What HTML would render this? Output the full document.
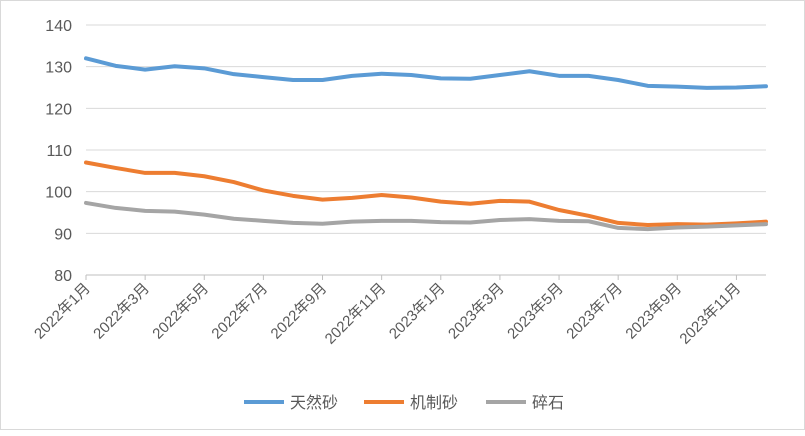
<!DOCTYPE html>
<html><head><meta charset="utf-8">
<style>
body{margin:0;background:#fff;}
#wrap{width:805px;height:430px;position:relative;box-sizing:border-box;border:1px solid #d9d9d9;background:#fff;}
svg text{font-family:"Liberation Sans","Noto Sans CJK SC",sans-serif;fill:#595959;}
</style></head>
<body>
<div id="wrap">
<svg id="chart" width="805" height="430"></svg>
</div>
<script>
const categories=["2022年1月","2022年2月","2022年3月","2022年4月","2022年5月","2022年6月","2022年7月","2022年8月","2022年9月","2022年10月","2022年11月","2022年12月","2023年1月","2023年2月","2023年3月","2023年4月","2023年5月","2023年6月","2023年7月","2023年8月","2023年9月","2023年10月","2023年11月","2023年12月"];
const naturalSand=[132,130.2,129.3,130.1,129.6,128.2,127.5,126.8,126.8,127.8,128.3,128.0,127.2,127.1,128.0,128.9,127.8,127.8,126.8,125.4,125.2,124.9,125.0,125.3];
const machineSand=[107.0,105.7,104.5,104.5,103.7,102.3,100.3,99.0,98.1,98.5,99.2,98.6,97.6,97.1,97.8,97.6,95.6,94.2,92.5,92.0,92.2,92.1,92.4,92.8];
const gravel=[97.3,96.1,95.4,95.2,94.5,93.5,93.0,92.5,92.3,92.8,93.0,93.0,92.7,92.6,93.2,93.4,93.0,92.9,91.3,91.0,91.4,91.6,91.9,92.2];
const yTicks=[80,90,100,110,120,130,140];
const seriesNames=["天然砂","机制砂","碎石"];
const colors=["#5b9bd5","#ed7d31","#a5a5a5"];
const NS="http://www.w3.org/2000/svg";
const svg=document.getElementById('chart');
const x0=85,x1=765,yTop=24,yBot=274,yMin=80,yMax=140;
const xs=i=>x0+i*(x1-x0)/(categories.length-1);
const ys=v=>yBot-(v-yMin)/(yMax-yMin)*(yBot-yTop);
function mk(t,a){const e=document.createElementNS(NS,t);for(const k in a)e.setAttribute(k,a[k]);svg.appendChild(e);return e;}
yTicks.forEach(v=>{
  const g=mk('line',{x1:x0,x2:x1,y1:ys(v),y2:ys(v),stroke:v===80?'#bfbfbf':'#d9d9d9','stroke-width':1});
  
  
  const t=mk('text',{x:x0-14,y:ys(v)+6,'text-anchor':'end','font-size':16});
  t.textContent=v;
  
  
});
categories.forEach((c,i)=>{
  if(i%2===0){
    const tk=mk('line',{x1:xs(i),x2:xs(i),y1:yBot,y2:yBot+5,stroke:'#bfbfbf'});
    
    
    const t=mk('text',{x:xs(i)+5,y:yBot+14,'text-anchor':'end','font-size':15,transform:`rotate(-45 ${xs(i)+5} ${yBot+14})`});
    t.textContent=c;
    
    
  }
});
[naturalSand,machineSand,gravel].forEach((s,k)=>{
  const p=mk('polyline',{points:s.map((v,i)=>xs(i)+','+ys(v)).join(' '),fill:'none',stroke:colors[k],'stroke-width':4,'stroke-linejoin':'round','stroke-linecap':'round'});
  
  
});
const lx=[243,363,485];
seriesNames.forEach((n,k)=>{
  const l=mk('line',{x1:lx[k],x2:lx[k]+40,y1:401,y2:401,stroke:colors[k],'stroke-width':4});
  
  
  const t=mk('text',{x:lx[k]+46,y:407,'font-size':16});
  t.textContent=n;
  
  
});
</script>
</body></html>
